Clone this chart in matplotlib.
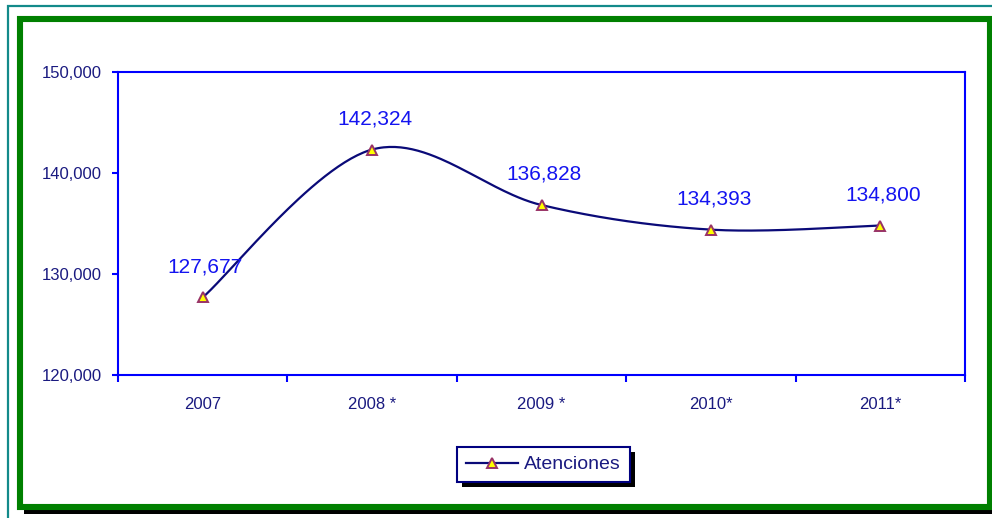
import numpy as np
import matplotlib
matplotlib.use("Agg")
import matplotlib.pyplot as plt
from matplotlib.patches import Rectangle
from matplotlib.lines import Line2D

plt.rcParams['font.family'] = ['Liberation Sans', 'DejaVu Sans']

categories = ["2007", "2008 *", "2009 *", "2010*", "2011*"]
values = [127677, 142324, 136828, 134393, 134800]
labels = ["127,677", "142,324", "136,828", "134,393", "134,800"]
yticks = [120000, 130000, 140000, 150000]
series_name = "Atenciones"

W, H = 992, 518
fig = plt.figure(figsize=(W / 100, H / 100), dpi=100)

def px(x0, y0, x1, y1):
    # pixel box (top-left origin) -> figure fraction rect
    return (x0 / W, 1 - y1 / H, (x1 - x0) / W, (y1 - y0) / H)

# outer teal frame
r = px(8, 6, 1000, 530)
fig.patches.append(Rectangle(r[:2], r[2], r[3], transform=fig.transFigure,
                             fill=False, edgecolor='#138a8a', lw=1.6, zorder=-20))
# black shadow of green frame
r = px(24, 24, 995, 514)
fig.patches.append(Rectangle(r[:2], r[2], r[3], transform=fig.transFigure,
                             facecolor='black', edgecolor='none', zorder=-19))
# green frame
r = px(20, 19, 990, 507)
fig.patches.append(Rectangle(r[:2], r[2], r[3], transform=fig.transFigure,
                             facecolor='white', edgecolor='#008000', lw=4.4, zorder=-18))

ax = fig.add_axes(px(118, 72, 965, 375))
ax.set_facecolor('white')

x = np.arange(len(values))
y = np.array(values, dtype=float)

# Excel-style smoothed curve (cubic Bezier with 1/6 tangent control points)
pts = np.column_stack([x, y])
ext = np.vstack([pts[0], pts, pts[-1]])
t = np.linspace(0, 1, 60)[:, None]
curve = []
for i in range(len(pts) - 1):
    p0, p1 = ext[i + 1], ext[i + 2]
    c1 = p0 + (ext[i + 2] - ext[i]) / 6.0
    c2 = p1 - (ext[i + 3] - ext[i + 1]) / 6.0
    seg = ((1 - t) ** 3) * p0 + 3 * ((1 - t) ** 2) * t * c1 + 3 * (1 - t) * t ** 2 * c2 + t ** 3 * p1
    curve.append(seg)
curve = np.vstack(curve)

line_color = '#0a0a78'
ax.plot(curve[:, 0], curve[:, 1], color=line_color, lw=1.6, zorder=3)
ax.plot(x, y, linestyle='none', marker='^', ms=7.5, mfc='#ffff00', mec='#993366',
        mew=1.4, zorder=4)

for xi, yi, lab in zip(x, y, labels):
    ax.annotate(lab, (xi, yi), xytext=(2, 22), textcoords='offset points',
                ha='center', va='center', fontsize=15, color='#1414f0')

ax.set_xlim(-0.5, len(values) - 0.5)
ax.set_ylim(yticks[0], yticks[-1])
ax.set_yticks(yticks)
ax.set_yticklabels([f"{v:,}" for v in yticks])
ax.set_xticks(x)
ax.set_xticklabels(categories)
ax.set_xticks(np.arange(-0.5, len(values), 1.0), minor=True)

axis_blue = '#0000ff'
label_navy = '#1a1a80'
for s in ax.spines.values():
    s.set_color(axis_blue)
    s.set_linewidth(1.5)
ax.tick_params(axis='y', direction='out', length=4.5, width=1.5, color=axis_blue,
               labelsize=12, labelcolor=label_navy, pad=7)
ax.tick_params(axis='x', which='major', length=0, labelsize=12, labelcolor=label_navy, pad=16)
ax.tick_params(axis='x', which='minor', direction='out', length=5, width=1.5, color=axis_blue)

handle = Line2D([], [], color=line_color, lw=1.6, marker='^', ms=7.5, mfc='#ffff00',
                mec='#993366', mew=1.4)
leg = fig.legend([handle], [series_name], loc='center',
                 bbox_to_anchor=((458 + 629) / 2 / W, 1 - (446 + 483) / 2 / H),
                 fontsize=14, frameon=True, fancybox=False, framealpha=1,
                 facecolor='white', handlelength=2.7,
                 handletextpad=0.3, borderpad=0.45, borderaxespad=0)
leg.get_frame().set_edgecolor('#000080')
leg.get_frame().set_linewidth(1.5)
for txt in leg.get_texts():
    txt.set_color(label_navy)
leg.set_zorder(5)

fig.canvas.draw()
bb = leg.get_window_extent()
sh = Rectangle((bb.x0 + 5, bb.y0 - 5), bb.width, bb.height, transform=None,
               facecolor='black', edgecolor='none', zorder=4)
fig.patches.append(sh)

fig.savefig('out.png', dpi=100)
